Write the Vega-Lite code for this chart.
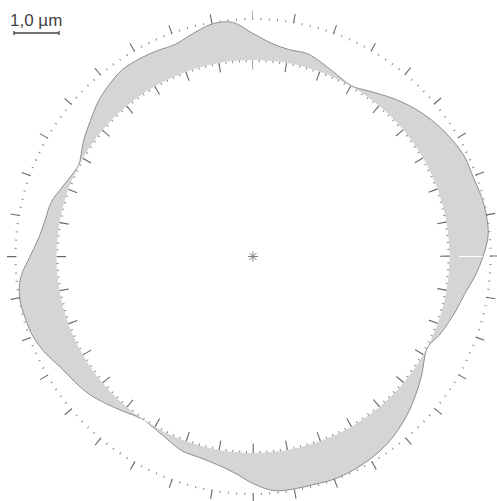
{
  "$schema": "https://vega.github.io/schema/vega-lite/v6.json",
  "width": 488,
  "height": 488,
  "autosize": {"type": "none"},
  "padding": {"left": 9, "top": 12.5, "right": 0, "bottom": 0.5},
  "background": "white",
  "config": {"view": {"stroke": null}},
  "datasets": {
    "profile": [
      {"i": 0, "x": 5.1111, "y": 0},
      {"i": 1, "x": 5.2244, "y": 0.4571},
      {"i": 2, "x": 5.1867, "y": 0.9146},
      {"i": 3, "x": 5.0657, "y": 1.3574},
      {"i": 4, "x": 4.8864, "y": 1.7785},
      {"i": 5, "x": 4.7128, "y": 2.1976},
      {"i": 6, "x": 4.4456, "y": 2.5667},
      {"i": 7, "x": 4.1321, "y": 2.8934},
      {"i": 8, "x": 3.7791, "y": 3.1711},
      {"i": 9, "x": 3.3941, "y": 3.3941},
      {"i": 10, "x": 2.9854, "y": 3.5578},
      {"i": 11, "x": 2.5747, "y": 3.6771},
      {"i": 12, "x": 2.1889, "y": 3.7913},
      {"i": 13, "x": 1.8783, "y": 4.028},
      {"i": 14, "x": 1.5581, "y": 4.2808},
      {"i": 15, "x": 1.2078, "y": 4.5077},
      {"i": 16, "x": 0.8104, "y": 4.5958},
      {"i": 17, "x": 0.4145, "y": 4.7375},
      {"i": 18, "x": 0, "y": 4.9556},
      {"i": 19, "x": -0.4552, "y": 5.2023},
      {"i": 20, "x": -0.9107, "y": 5.1647},
      {"i": 21, "x": -1.3286, "y": 4.9584},
      {"i": 22, "x": -1.7177, "y": 4.7193},
      {"i": 23, "x": -2.1319, "y": 4.5718},
      {"i": 24, "x": -2.5333, "y": 4.3879},
      {"i": 25, "x": -2.9062, "y": 4.1504},
      {"i": 26, "x": -3.1997, "y": 3.8132},
      {"i": 27, "x": -3.4413, "y": 3.4413},
      {"i": 28, "x": -3.6089, "y": 3.0282},
      {"i": 29, "x": -3.7499, "y": 2.6257},
      {"i": 30, "x": -3.8298, "y": 2.2111},
      {"i": 31, "x": -3.8653, "y": 2.0552},
      {"i": 32, "x": -3.9878, "y": 1.8595},
      {"i": 33, "x": -4.239, "y": 1.5429},
      {"i": 34, "x": -4.4862, "y": 1.2021},
      {"i": 35, "x": -4.6177, "y": 0.8142},
      {"i": 36, "x": -4.7596, "y": 0.4164},
      {"i": 37, "x": -4.9556, "y": 0},
      {"i": 38, "x": -5.1581, "y": -0.4513},
      {"i": 39, "x": -5.1867, "y": -0.9146},
      {"i": 40, "x": -5.0657, "y": -1.3574},
      {"i": 41, "x": -4.8864, "y": -1.7785},
      {"i": 42, "x": -4.6121, "y": -2.1507},
      {"i": 43, "x": -4.2724, "y": -2.4667},
      {"i": 44, "x": -3.9683, "y": -2.7786},
      {"i": 45, "x": -3.643, "y": -3.0569},
      {"i": 46, "x": -3.2684, "y": -3.2684},
      {"i": 47, "x": -2.8854, "y": -3.4387},
      {"i": 48, "x": -2.511, "y": -3.5861},
      {"i": 49, "x": -2.3199, "y": -3.7126},
      {"i": 50, "x": -1.8971, "y": -4.0683},
      {"i": 51, "x": -1.5733, "y": -4.3226},
      {"i": 52, "x": -1.1963, "y": -4.4647},
      {"i": 53, "x": -0.8142, "y": -4.6177},
      {"i": 54, "x": -0.4203, "y": -4.8038},
      {"i": 55, "x": 0, "y": -5.0444},
      {"i": 56, "x": 0.4552, "y": -5.2023},
      {"i": 57, "x": 0.9107, "y": -5.1647},
      {"i": 58, "x": 1.3574, "y": -5.0657},
      {"i": 59, "x": 1.8013, "y": -4.9491},
      {"i": 60, "x": 2.2164, "y": -4.7531},
      {"i": 61, "x": 2.6, "y": -4.5034},
      {"i": 62, "x": 2.9444, "y": -4.2049},
      {"i": 63, "x": 3.2282, "y": -3.8472},
      {"i": 64, "x": 3.4569, "y": -3.4569},
      {"i": 65, "x": 3.6259, "y": -3.0425},
      {"i": 66, "x": 3.7499, "y": -2.6257},
      {"i": 67, "x": 3.8653, "y": -2.0552},
      {"i": 68, "x": 4.132, "y": -1.754},
      {"i": 69, "x": 4.2809, "y": -1.5581},
      {"i": 70, "x": 4.5077, "y": -1.2078},
      {"i": 71, "x": 4.7052, "y": -0.8297},
      {"i": 72, "x": 4.9367, "y": -0.4319}
    ],
    "scalebar": [
      {"x": -5.3111, "y": 4.9667, "x2": -4.3111, "y2": 4.9667},
      {"x": -5.3111, "y": 4.9222, "x2": -5.3111, "y2": 5.0111},
      {"x": -4.3111, "y": 4.9222, "x2": -4.3111, "y2": 5.0111}
    ],
    "zeroline": [
      {"x": 4.578, "y": 0, "x2": 5.105, "y2": 0}
    ],
    "centre": [{"x": 0, "y": 0}],
    "label": [{"x": -5.4, "y": 5.1333, "text": "1,0 µm"}],
    "rings": [
      {"ring": "white", "r": 4.3667},
      {"ring": "innerTicks", "r": 4.2556},
      {"ring": "innerDots", "r": 4.3444},
      {"ring": "outerDots", "r": 5.2778},
      {"ring": "outerTicks", "r": 5.3667}
    ]
  },
  "layer": [
    {
      "data": {"name": "profile"},
      "mark": {"type": "line", "interpolate": "cardinal-closed", "fill": "#d5d5d5", "stroke": "#8e8e8e", "strokeWidth": 1},
      "encoding": {
        "x": {"field": "x", "type": "quantitative", "scale": {"domain": [-5.4222, 5.4222], "nice": false, "zero": false}, "axis": null},
        "y": {"field": "y", "type": "quantitative", "scale": {"domain": [-5.4222, 5.4222], "nice": false, "zero": false}, "axis": null},
        "order": {"field": "i", "type": "quantitative"}
      }
    },
    {
      "data": {"name": "zeroline"},
      "mark": {"type": "rule", "stroke": "#ffffff", "strokeWidth": 1},
      "encoding": {
        "x": {"field": "x", "type": "quantitative"},
        "y": {"field": "y", "type": "quantitative"},
        "x2": {"field": "x2"},
        "y2": {"field": "y2"}
      }
    },
    {
      "data": {"name": "rings"},
      "transform": [{"filter": "datum.ring === 'white'"}],
      "mark": {"type": "arc", "fill": "#ffffff", "stroke": null},
      "encoding": {
        "radius": {"field": "r", "type": "quantitative", "scale": {"type": "linear", "domain": [0, 5.4222], "range": [0, 244], "zero": true, "nice": false}}
      }
    },
    {
      "data": {"name": "rings"},
      "transform": [{"filter": "datum.ring === 'innerDots'"}],
      "mark": {"type": "arc", "filled": false, "fill": null, "stroke": "#8a8a8a", "strokeWidth": 2.2, "strokeDash": [1, 5.8242], "strokeDashOffset": 0.5},
      "encoding": {
        "radius": {"field": "r", "type": "quantitative"}
      }
    },
    {
      "data": {"name": "rings"},
      "transform": [{"filter": "datum.ring === 'innerTicks'"}],
      "mark": {"type": "arc", "filled": false, "fill": null, "stroke": "#6a6a6a", "strokeWidth": 9, "strokeDash": [1.1, 32.323], "strokeDashOffset": 0.55},
      "encoding": {
        "radius": {"field": "r", "type": "quantitative"}
      }
    },
    {
      "data": {"name": "rings"},
      "transform": [{"filter": "datum.ring === 'outerDots'"}],
      "mark": {"type": "arc", "filled": false, "fill": null, "stroke": "#8a8a8a", "strokeWidth": 2.2, "strokeDash": [1, 7.2903], "strokeDashOffset": 0.5},
      "encoding": {
        "radius": {"field": "r", "type": "quantitative"}
      }
    },
    {
      "data": {"name": "rings"},
      "transform": [{"filter": "datum.ring === 'outerTicks'"}],
      "mark": {"type": "arc", "filled": false, "fill": null, "stroke": "#6a6a6a", "strokeWidth": 9, "strokeDash": [1.1, 41.0497], "strokeDashOffset": 0.55},
      "encoding": {
        "radius": {"field": "r", "type": "quantitative"}
      }
    },
    {
      "data": {"name": "centre"},
      "mark": {"type": "point", "shape": "M-1,0L1,0M0,-1L0,1M-0.7,-0.7L0.7,0.7M-0.7,0.7L0.7,-0.7", "filled": false, "stroke": "#808080", "strokeWidth": 1, "size": 100, "opacity": 1},
      "encoding": {
        "x": {"field": "x", "type": "quantitative"},
        "y": {"field": "y", "type": "quantitative"}
      }
    },
    {
      "data": {"name": "scalebar"},
      "mark": {"type": "rule", "stroke": "#444444", "strokeWidth": 1.3},
      "encoding": {
        "x": {"field": "x", "type": "quantitative"},
        "y": {"field": "y", "type": "quantitative"},
        "x2": {"field": "x2"},
        "y2": {"field": "y2"}
      }
    },
    {
      "data": {"name": "label"},
      "mark": {"type": "text", "align": "left", "baseline": "alphabetic", "font": "Liberation Sans", "fontSize": 17, "fill": "#444444"},
      "encoding": {
        "x": {"field": "x", "type": "quantitative"},
        "y": {"field": "y", "type": "quantitative"},
        "text": {"field": "text"}
      }
    }
  ]
}
